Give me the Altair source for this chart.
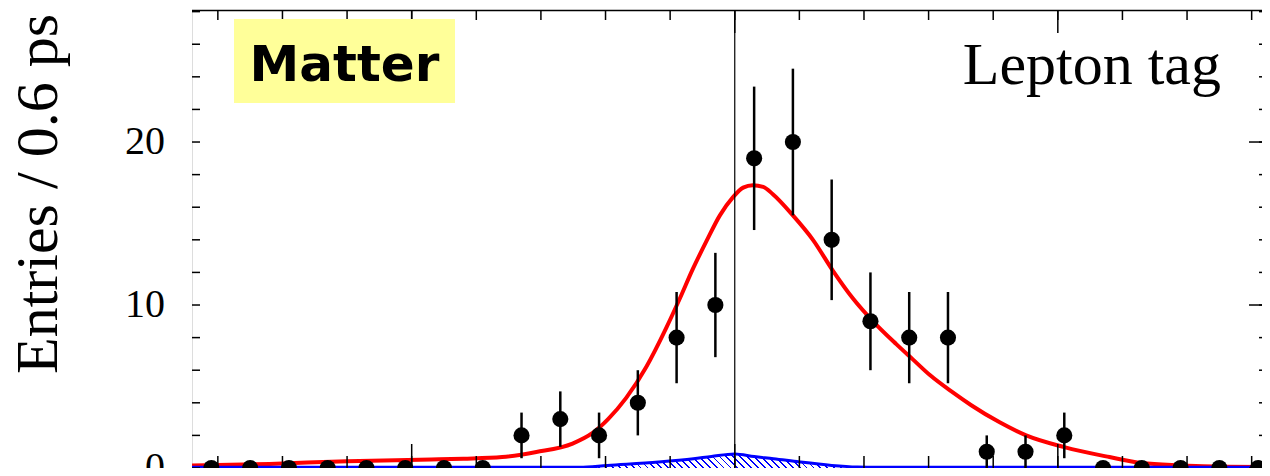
import math
import altair as alt
import pandas as pd

# ---------------- data ----------------
bin_centers = [-8.1, -7.5, -6.9, -6.3, -5.7, -5.1, -4.5, -3.9, -3.3, -2.7, -2.1, -1.5, -0.9, -0.3,
               0.3, 0.9, 1.5, 2.1, 2.7, 3.3, 3.9, 4.5, 5.1, 5.7, 6.3, 6.9, 7.5, 8.1]
entries = [0, 0, 0, 0, 0, 0, 0, 0, 2, 3, 2, 4, 8, 10,
           19, 20, 14, 9, 8, 8, 1, 1, 2, 0, 0, 0, 0, 0]
errors = [0, 0, 0, 0, 0, 0, 0, 0, 1.4, 1.7, 1.4, 2.0, 2.8, 3.2,
          4.4, 4.5, 3.7, 3.0, 2.8, 2.8, 1.0, 1.0, 1.4, 0, 0, 0, 0, 0]

fit_t = [-8.4, -7.2, -6.0, -4.7, -4.2, -3.6, -3.07, -2.51, -2.2, -1.96, -1.68, -1.37, -1.06,
         -0.85, -0.65, -0.44, -0.23, -0.03, 0.13, 0.28, 0.44, 0.59, 0.9, 1.21, 1.52, 1.83,
         2.14, 2.5, 2.76, 3.02, 3.38, 3.66, 4.1, 4.51, 5.1, 5.8, 6.3, 6.9, 7.6, 8.4]
fit_v = [0.15, 0.25, 0.42, 0.52, 0.57, 0.67, 0.98, 1.5, 2.15, 3.0, 4.3, 6.2, 8.6,
         10.4, 12.2, 13.9, 15.5, 16.6, 17.2, 17.35, 17.25, 16.8, 15.5, 14.0, 12.1, 10.4,
         9.0, 7.6, 6.65, 5.7, 4.62, 3.85, 2.8, 2.0, 1.28, 0.67, 0.3, 0.16, 0.08, 0.06]

bkg_t = [-8.4, -2.4, -1.97, -1.18, -0.64, -0.36, 0.0, 0.3, 0.6, 1.0, 1.5, 1.9, 2.2, 8.4]
bkg_v = [0.04, 0.04, 0.16, 0.37, 0.57, 0.71, 0.86, 0.7, 0.57, 0.37, 0.16, 0.06, 0.04, 0.04]
hatch_range = [-2.4, 2.2]

x_minor_ticks = [-8, -7, -6, -5, -4, -3, -2, -1, 0, 1, 2, 3, 4, 5, 6, 7, 8]
x_major_ticks = [-5, 0, 5]
y_minor_ticks = [0, 2, 4, 6, 8, 10, 12, 14, 16, 18, 20, 22, 24, 26, 28]
y_major_ticks = [0, 10, 20]
y_labels = [0, 10, 20]
zero_marker = [0]

y_title = "Entries / 0.6 ps"
tag_text = "Lepton tag"
box_text = "Matter"

# ---------------- layout / style ----------------
XMIN, XMAX = -8.4, 8.16
YMIN, YMAX = 0.0, 28.1
W, H = 1070, 458
SERIF = "Liberation Serif, Times New Roman, serif"

xs = alt.Scale(domain=[XMIN, XMAX], nice=False, zero=False)
ys = alt.Scale(domain=[YMIN, YMAX], nice=False, zero=False)

pts = pd.DataFrame({"t": bin_centers, "n": entries, "e": errors})
fit = pd.DataFrame({"t": fit_t, "v": fit_v})
bkg = pd.DataFrame({"t": bkg_t, "v": bkg_v})
hatch = bkg[(bkg.t >= hatch_range[0]) & (bkg.t <= hatch_range[1])]
xmin_df = pd.DataFrame({"t": x_minor_ticks})
xmaj_df = pd.DataFrame({"t": x_major_ticks})
ymin_df = pd.DataFrame({"v": y_minor_ticks})
ymaj_df = pd.DataFrame({"v": y_major_ticks})
ylab_df = pd.DataFrame({"v": y_labels})
zero_df = pd.DataFrame({"t": zero_marker})
one = pd.DataFrame({"a": [0]})

# diagonal hatch pattern as a hard-stop linear gradient over the hatched area's box
bw = (hatch_range[1] - hatch_range[0]) / (XMAX - XMIN) * W
bh = max(hatch.v) / (YMAX - YMIN) * H
k = (bw + bh) / (bw * bw + bh * bh)
period, line_w = 7.0, 1.8
n_str = int(math.ceil((bw + bh) / period))
stops = []
for i in range(n_str):
    a = i / n_str
    b = (i + (period - line_w) / period) / n_str
    c = (i + 1) / n_str
    stops += [{"offset": a, "color": "#ffffff"}, {"offset": b, "color": "#ffffff"},
              {"offset": b, "color": "#0000ff"}, {"offset": c, "color": "#0000ff"}]
hatch_fill = {"gradient": "linear", "x1": 0, "y1": 1, "x2": k * bw, "y2": 1 - k * bh,
              "stops": stops}

x_axis = alt.Axis(domain=True, domainColor="black", domainWidth=1.5, ticks=False,
                  labels=False, title=None, grid=False)
y_axis = alt.Axis(domain=True, domainColor="black", domainWidth=1.5, ticks=False,
                  labels=False, title=None, grid=False)

bkg_area = alt.Chart(hatch).mark_area(fill=hatch_fill, interpolate="monotone",
                                      clip=True).encode(
    x=alt.X("t:Q", scale=xs, axis=x_axis),
    y=alt.Y("v:Q", scale=ys, axis=y_axis),
)

fit_line = alt.Chart(fit).mark_line(color="#ff0000", strokeWidth=4, interpolate="monotone",
                                    clip=True).encode(
    x=alt.X("t:Q", scale=xs, axis=None),
    y=alt.Y("v:Q", scale=ys, axis=None),
)

bkg_line = alt.Chart(bkg).mark_line(color="#0000ff", strokeWidth=3, interpolate="monotone",
                                    clip=True).encode(
    x=alt.X("t:Q", scale=xs, axis=None),
    y=alt.Y("v:Q", scale=ys, axis=None),
)

zero_line = alt.Chart(zero_df).mark_rule(color="black", strokeWidth=1.2).encode(
    x=alt.X("t:Q", scale=xs, axis=None),
    y=alt.value(0), y2=alt.value(H),
)

err_bars = alt.Chart(pts).transform_filter("datum.e > 0").transform_calculate(
    lo="datum.n - datum.e", hi="datum.n + datum.e"
).mark_rule(color="black", strokeWidth=2.5, clip=True).encode(
    x=alt.X("t:Q", scale=xs, axis=None),
    y=alt.Y("lo:Q", scale=ys, axis=None),
    y2="hi:Q",
)

dots = alt.Chart(pts).mark_circle(color="black", opacity=1, size=260, clip=True).encode(
    x=alt.X("t:Q", scale=xs, axis=None),
    y=alt.Y("n:Q", scale=ys, axis=None),
)


def xticks(df, y0, y1):
    return alt.Chart(df).mark_rule(color="black", strokeWidth=1.5).encode(
        x=alt.X("t:Q", scale=xs, axis=None), y=alt.value(y0), y2=alt.value(y1))


def yticks(df, x0, x1):
    return alt.Chart(df).mark_rule(color="black", strokeWidth=1.5).encode(
        y=alt.Y("v:Q", scale=ys, axis=None), x=alt.value(x0), x2=alt.value(x1))


top_frame = alt.Chart(one).mark_rule(color="black", strokeWidth=1.5).encode(
    x=alt.value(0), x2=alt.value(W), y=alt.value(0.5))

y_tick_labels = alt.Chart(ylab_df).mark_text(
    font=SERIF, fontSize=40, color="black", align="right", baseline="middle"
).encode(
    y=alt.Y("v:Q", scale=ys, axis=None), x=alt.value(-27), text=alt.Text("v:Q"),
)

y_title_mark = alt.Chart(one).mark_text(
    text=y_title, font=SERIF, fontSize=60, color="black", angle=270,
    align="center", baseline="alphabetic"
).encode(x=alt.value(-135), y=alt.value(184))

box = alt.Chart(one).mark_rect(color="#ffff99").encode(
    x=alt.value(42), x2=alt.value(263), y=alt.value(9), y2=alt.value(93))

box_label = alt.Chart(one).mark_text(
    text=box_text, font="Comic Sans MS, DejaVu Sans, sans-serif", fontWeight="bold",
    fontSize=50, color="black", align="center", baseline="alphabetic"
).encode(x=alt.value(152.5), y=alt.value(71))

tag = alt.Chart(one).mark_text(
    text=tag_text, font=SERIF, fontSize=60, color="black", align="right",
    baseline="alphabetic"
).encode(x=alt.value(1029), y=alt.value(74))

chart = alt.layer(
    bkg_area, fit_line, bkg_line, zero_line, err_bars, dots,
    xticks(xmin_df, 0, 10), xticks(xmaj_df, 0, 23),
    xticks(xmin_df, H, H - 12), xticks(xmaj_df, H, H - 24),
    yticks(ymin_df, 0, 8), yticks(ymin_df, W - 3, W), yticks(ymaj_df, W - 13, W),
    top_frame, box, box_label, tag, y_tick_labels, y_title_mark,
).properties(
    width=W, height=H,
    autosize=alt.AutoSizeParams(type="none"),
    padding={"left": 184, "top": 2, "right": 0, "bottom": 0},
).configure_view(stroke=None).configure(background="white")

chart.save("out.html", embed_options={"renderer": "svg", "actions": False})
